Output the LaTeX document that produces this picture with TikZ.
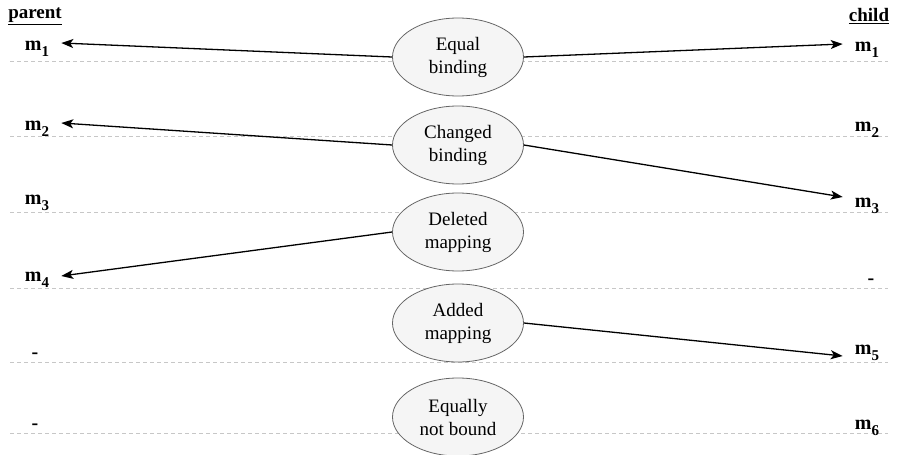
\documentclass[tikz,border=0pt]{standalone}
\usepackage{fontspec}
\setmainfont{Liberation Serif}
\usetikzlibrary{shapes.geometric, arrows.meta}
\newcommand{\msub}[1]{m\raisebox{-0.32em}{\fontsize{15}{15}\selectfont #1}}

\begin{document}
\begin{tikzpicture}[x=1pt, y=-1pt,
  kind/.style={ellipse, draw=black!60, fill=black!4, line width=0.8pt,
               minimum width=131pt, minimum height=78pt, inner sep=0pt,
               align=center, font=\fontsize{19}{23}\selectfont},
  lbl/.style={font=\fontsize{20}{22}\selectfont\bfseries, inner xsep=12pt},
  head/.style={font=\fontsize{19}{21}\selectfont\bfseries},
  row/.style={draw=black!22, line width=0.8pt, dash pattern=on 4pt off 3pt},
  map/.style={->, line width=1.3pt},
  >={Stealth[length=12pt, width=9pt, inset=3pt]}
]
\useasboundingbox (0,0) rectangle (898,455);

% separators
\foreach \y in {61, 136, 212, 288, 362, 433}
  \draw[row] (10,\y) -- (888,\y);

% headings
\node[head] (par) at (35,16) {\underline{parent}};
\node[head] (chi) at (869,16) {\underline{child}};

% parent side
\node[lbl] (pm1) at (37,49)  {\msub{1}};
\node[lbl] (pm2) at (37,129) {\msub{2}};
\node[lbl] (pm3) at (37,203) {\msub{3}};
\node[lbl] (pm4) at (37,280) {\msub{4}};
\node[lbl] (pm5) at (35,356) {-};
\node[lbl] (pm6) at (35,427) {-};

% child side
\node[lbl] (cm1) at (867,50)  {\msub{1}};
\node[lbl] (cm2) at (867,130) {\msub{2}};
\node[lbl] (cm3) at (867,206) {\msub{3}};
\node[lbl] (cm4) at (871,282) {-};
\node[lbl] (cm5) at (867,353) {\msub{5}};
\node[lbl] (cm6) at (867,428) {\msub{6}};

% kinds of change
\node[kind] (eqb) at (458,57)  {Equal\\binding};
\node[kind] (chb) at (458,145) {Changed\\binding};
\node[kind] (dlm) at (458,232) {Deleted\\mapping};
\node[kind] (adm) at (458,323) {Added\\mapping};
\node[kind] (eqn) at (458,417) {Equally\\not bound};

\draw[map] (eqb.west) -- ([yshift=6pt]pm1.east);
\draw[map] (eqb.east) -- ([yshift=6pt]cm1.west);
\draw[map] (chb.west) -- ([yshift=6pt]pm2.east);
\draw[map] (chb.east) -- ([yshift=9pt]cm3.west);
\draw[map] (dlm.west) -- ([yshift=4pt]pm4.east);
\draw[map] (adm.east) -- ([yshift=-3pt]cm5.west);
\end{tikzpicture}
\end{document}
